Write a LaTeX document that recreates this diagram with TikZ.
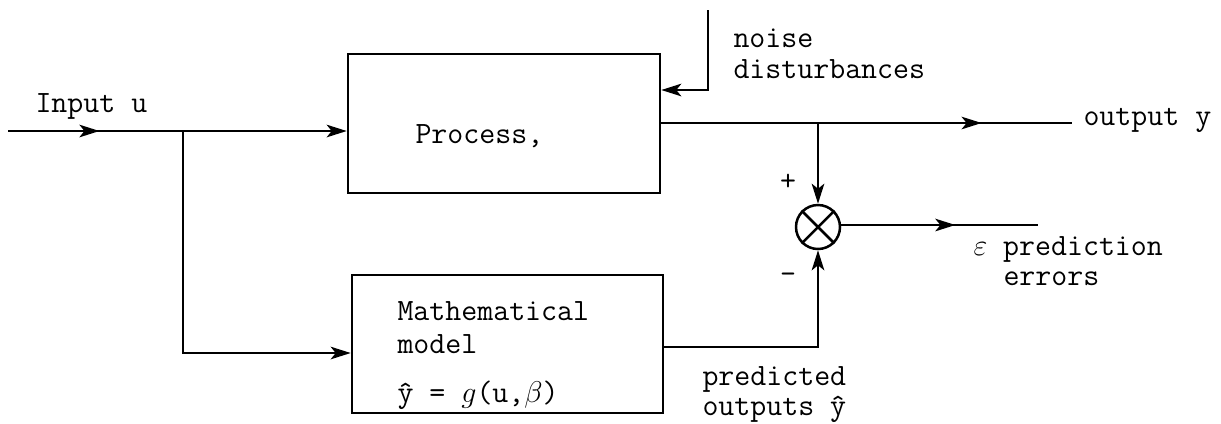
\documentclass[tikz,border=0pt]{standalone}
\usetikzlibrary{arrows.meta,decorations.markings}
\begin{document}
\begin{tikzpicture}[x=0.4pt,y=-0.4pt]
\tikzset{
 wire/.style={line width=1pt},
 arrowend/.style={-{Stealth[length=8pt,width=5pt,inset=2pt]}},
 midarrow/.style={postaction={decorate},decoration={markings,mark=at position #1 with {\arrow{Stealth[length=8pt,width=5pt,inset=2pt]}}}},
 blockbox/.style={draw,line width=1pt,inner sep=0pt},
 lbl/.style={anchor=base west,inner sep=0pt,font=\fontsize{12.4}{14}\selectfont\ttfamily},
}
\useasboundingbox (0,0) rectangle (1221,423);
% blocks
\node[blockbox, minimum width=124.8pt, minimum height=55.6pt] (proc) at (504,123.5) {};
\node[blockbox, minimum width=124.4pt, minimum height=55.2pt] (model) at (507.5,344) {};
\node[draw, circle, line width=1pt, minimum size=17.6pt, inner sep=0pt] (sum) at (818,227) {};
\draw[line width=1pt] (sum.north west) -- (sum.south east) (sum.south west) -- (sum.north east);
% coordinates
\coordinate (in) at (8,131);
\coordinate (br) at (183,131);
\coordinate (mdin) at (183,353);
\coordinate (mdout) at (663,347);
\coordinate (nz) at (708,10);
\coordinate (nzc) at (708,90);
\coordinate (tap) at (818,123);
\coordinate (yout) at (1072,123);
\coordinate (eout) at (1038,225);
% connectors
\draw[wire, arrowend, midarrow=0.27] (in) -- (proc.west |- in);
\draw[wire, arrowend] (br) |- (model.west |- mdin);
\draw[wire, arrowend] (nz) -- (nzc) -- (proc.east |- nzc);
\draw[wire, midarrow=0.78] (proc.east |- yout) -- (yout);
\draw[wire, arrowend] (tap) -- (sum.north);
\draw[wire, arrowend] (model.east |- mdout) -| (sum.south);
\draw[wire, midarrow=0.58] (sum.east |- eout) -- (eout);
% labels
\node[lbl] (tin) at (35,112) {Input u};
\node[lbl] (tproc) at (415,143) {Process,};
\node[lbl] (tnoise1) at (733,47) {noise};
\node[lbl] (tnoise2) at (733,78) {disturbances};
\node[lbl] (tout) at (1083,125) {output y};
\node[lbl] (terr1) at (973,255) {$\varepsilon$ prediction};
\node[lbl] (terr2) at (1003,285) {errors};
\node[lbl] (tm1) at (397,320) {Mathematical};
\node[lbl] (tm2) at (397,353) {model};
\node[lbl] (tm3) at (397,402) {\^{y} = $g$(u,$\beta$)};
\node[lbl] (tp1) at (702,385) {predicted};
\node[lbl] (tp2) at (702,415) {outputs \^{y}};
\node[lbl, anchor=center] (tplus) at (788,182) {+};
\node[lbl, anchor=center] (tminus) at (788,278) {-};
\end{tikzpicture}
\end{document}
